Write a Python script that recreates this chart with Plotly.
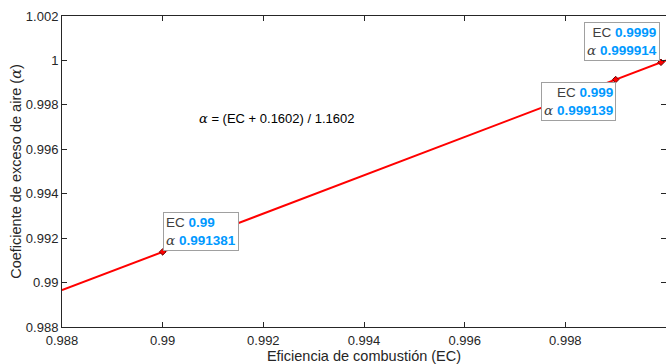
import plotly.graph_objects as go

# Data
line_ec = [0.988, 1.0]
line_alpha = [0.989657, 1.0]
tip_ec = [0.99, 0.999, 0.9999]
tip_alpha = [0.991381, 0.999139, 0.999914]
tip_ec_labels = ["0.99", "0.999", "0.9999"]
tip_alpha_labels = ["0.991381", "0.999139", "0.999914"]
x_ticks = [0.988, 0.99, 0.992, 0.994, 0.996, 0.998, 1.0]
x_tick_text = ["0.988", "0.99", "0.992", "0.994", "0.996", "0.998", "1"]
y_ticks = [0.988, 0.99, 0.992, 0.994, 0.996, 0.998, 1.0, 1.002]
y_tick_text = ["0.988", "0.99", "0.992", "0.994", "0.996", "0.998", "1", "1.002"]

FONT = "Liberation Sans, Arial, sans-serif"
AX = "#262626"
BLUE = "rgb(0,153,255)"
ALPHA = "<span style='font-family:DejaVu Serif, serif;font-style:italic'>α</span>"

fig = go.Figure()
fig.add_trace(go.Scatter(x=line_ec, y=line_alpha, mode="lines",
                         line=dict(color="#FF0000", width=2), hoverinfo="skip"))
fig.add_trace(go.Scatter(x=tip_ec, y=tip_alpha, mode="markers",
                         marker=dict(symbol="diamond", size=5, color="#FF0000",
                                     line=dict(color="#6a0000", width=1)),
                         hoverinfo="skip"))

anchors = [("left", "bottom", "left"), ("right", "top", "right"), ("right", "bottom", "right")]
shifts = [(0, 1), (0, -2), (-1, 1)]
for ec, al, el, alab, (xa, ya, al_), (sx, sy) in zip(tip_ec, tip_alpha, tip_ec_labels,
                                                     tip_alpha_labels, anchors, shifts):
    txt = (f"<span style='color:#404040'>EC</span> <b style='color:{BLUE}'>{el}</b><br>"
           f"<span style='color:#404040'>{ALPHA}</span> <b style='color:{BLUE}'>{alab}</b>")
    fig.add_annotation(x=ec, y=al, xref="x", yref="y", text=txt, showarrow=False,
                       xanchor=xa, yanchor=ya, align=al_, xshift=sx, yshift=sy,
                       bgcolor="white", bordercolor="#A0A0A0", borderwidth=1,
                       borderpad=2, font=dict(family=FONT, size=13.5, color="#404040"))

fig.add_annotation(x=0.99228, y=0.997383, xref="x", yref="y", showarrow=False,
                   text=f"{ALPHA} = (EC + 0.1602) / 1.1602",
                   font=dict(family=FONT, size=13, color="#000000"))

fig.update_layout(
    width=666, height=364,
    margin=dict(l=62, r=0, t=16, b=37),
    paper_bgcolor="white", plot_bgcolor="white",
    showlegend=False,
    font=dict(family=FONT, size=13, color=AX),
    xaxis=dict(range=[0.988, 1.0], tickvals=x_ticks, ticktext=x_tick_text,
               ticks="inside", ticklen=5, tickcolor=AX, showgrid=False, zeroline=False,
               showline=True, linecolor=AX, linewidth=1, mirror="ticks",
               tickfont=dict(size=13, color=AX), ticklabelstandoff=1,
               title=dict(text="Eficiencia de combustión (EC)", font=dict(size=14.5, color=AX),
                          standoff=2)),
    yaxis=dict(range=[0.988, 1.002], tickvals=y_ticks, ticktext=y_tick_text,
               ticks="inside", ticklen=5, tickcolor=AX, showgrid=False, zeroline=False,
               showline=True, linecolor=AX, linewidth=1, mirror="ticks",
               tickfont=dict(size=13, color=AX),
               title=dict(text=f"Coeficiente de exceso de aire ({ALPHA})",
                          font=dict(size=14.5, color=AX), standoff=0)),
)

fig.write_html("out.html", config={"displayModeBar": False},
               post_script="document.body.style.margin='0';document.body.style.overflow='hidden';")
